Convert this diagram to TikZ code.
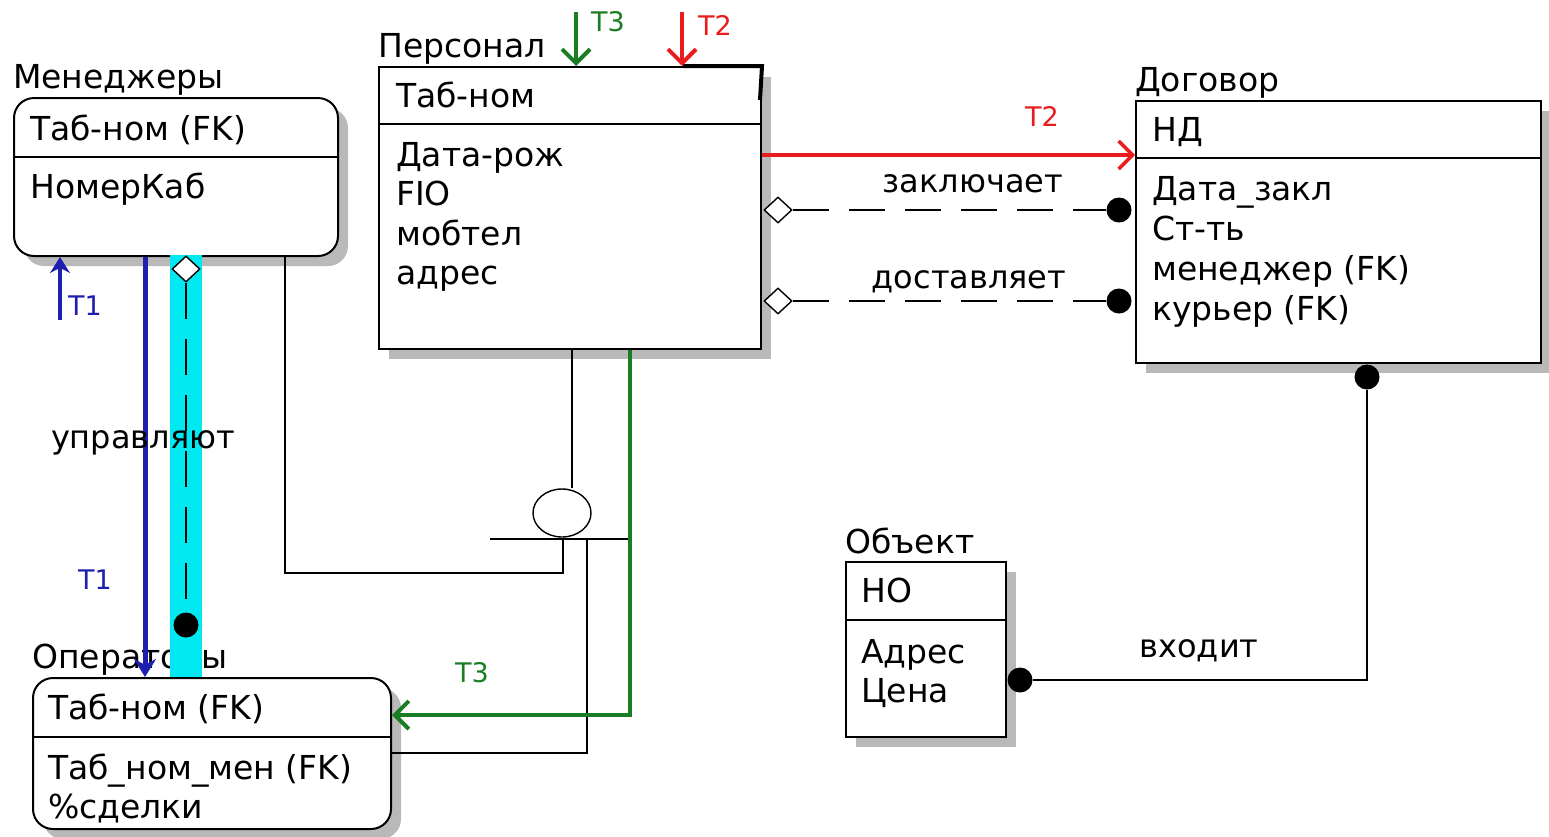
\documentclass[tikz,border=0pt]{standalone}
\usepackage{fontspec}
\setmainfont{DejaVu Sans}
\usetikzlibrary{shapes.geometric,shadows,arrows.meta}
\definecolor{tblue}{RGB}{30,30,175}
\definecolor{tgreen}{RGB}{25,125,35}
\definecolor{tred}{RGB}{232,28,28}
\definecolor{tcyan}{RGB}{0,232,240}
\tikzset{entity/.style={draw,fill=white,line width=2pt,inner sep=0,anchor=north west,drop shadow={shadow xshift=10pt,shadow yshift=-10pt,fill=gray!55,opacity=1}}}
\tikzset{title/.style={anchor=base west,inner sep=0,font=\fontsize{33}{36}\selectfont}}
\tikzset{attr/.style={anchor=base west,inner sep=0,font=\fontsize{33}{36}\selectfont}}
\tikzset{rel/.style={anchor=base,inner sep=0,font=\fontsize{32}{36}\selectfont}}
\tikzset{tag/.style={inner sep=0,font=\fontsize{27}{30}\selectfont}}
\tikzset{dot/.style={circle,fill=black,inner sep=0,minimum size=25}}
\tikzset{hollow/.style={diamond,draw,fill=white,line width=1.4pt,inner sep=0,minimum width=28,minimum height=26}}
\tikzset{link/.style={line width=2pt}}
\tikzset{idlink/.style={link,dash pattern=on 36pt off 20pt}}
\tikzset{tarrow/.style={line width=4pt,-{Straight Barb[length=14pt,width=28pt]}}}

\begin{document}
\begin{tikzpicture}[x=1pt,y=-1pt]
\useasboundingbox (0,0) rectangle (1549,836);

% entities
\node [entity,rounded corners=20pt,minimum width=324,minimum height=158] (men) at (13,97) {};
\node [entity,minimum width=382,minimum height=282] (pers) at (378,66) {};
\node [entity,minimum width=405,minimum height=262] (dog) at (1135,100) {};
\node [entity,minimum width=160,minimum height=175] (obj) at (845,561) {};
\node [entity,rounded corners=20pt,minimum width=358,minimum height=151] (ops) at (32,677) {};
\draw [line width=4pt] (683,66) -- (pers.north east) -- (760,100);

\draw [link] (men.west |- 0,157) -- (men.east |- 0,157);
\draw [link] (pers.west |- 0,124) -- (pers.east |- 0,124);
\draw [link] (dog.west |- 0,158) -- (dog.east |- 0,158);
\draw [link] (obj.west |- 0,620) -- (obj.east |- 0,620);
\draw [link] (ops.west |- 0,737) -- (ops.east |- 0,737);

\node [title] (menT) at (13,88) {Менеджеры};
\node [title] (persT) at (378,57) {Персонал};
\node [title] (dogT) at (1135,91) {Договор};
\node [title] (objT) at (845,553) {Объект};
\node [title] (opsT) at (32,668) {Операторы};

\node [attr] (men1) at (30,140) {Таб-ном (FK)};
\node [attr] (men2) at (30,198) {НомерКаб};

\node [attr] (pers1) at (396,107) {Таб-ном};
\node [attr] (pers2) at (396,166) {Дата-рож};
\node [attr] (pers3) at (396,205) {FIO};
\node [attr] (pers4) at (396,245) {мобтел};
\node [attr] (pers5) at (396,284) {адрес};

\node [attr] (dog1) at (1152,141) {НД};
\node [attr] (dog2) at (1152,200) {Дата\_закл};
\node [attr] (dog3) at (1152,240) {Ст-ть};
\node [attr] (dog4) at (1152,280) {менеджер (FK)};
\node [attr] (dog5) at (1152,320) {курьер (FK)};

\node [attr] (obj1) at (861,602) {НО};
\node [attr] (obj2) at (861,663) {Адрес};
\node [attr] (obj3) at (861,702) {Цена};

\node [attr] (ops1) at (48,719) {Таб-ном (FK)};
\node [attr] (ops2) at (48,779) {Таб\_ном\_мен (FK)};
\node [attr] (ops3) at (48,818) {\%сделки};

% управляют
\fill [tcyan] (170,255) rectangle (202,677);
\node [hollow] (dia1) at (186,269) {};
\node [dot] (dot1) at (186,625) {};
\draw [idlink] (dia1) -- (dot1);
\draw [tblue,line width=5pt,-{Stealth[length=18pt,width=22pt]}] (men.south -| 145,0) -- (ops.north -| 145,0);
\coordinate (t1a) at (60,320);
\draw [tblue,line width=4.5pt,-{Stealth[length=16pt,width=20pt]}] (t1a) -- (men.south -| 60,0);
\node [rel] (upr) at (143,448) {управляют};
\node [tag,tblue] (t1u) at (85,306) {T1};
\node [tag,tblue] (t1d) at (95,580) {T1};

% subtype
\node [draw,ellipse,line width=1.4pt,minimum width=58,minimum height=48,inner sep=0] (sub) at (562,513) {};
\draw [link] (pers.south -| 572,0) -- (sub.north -| 572,0);
\draw [link] (490,539) -- (632,539);
\draw [link] (men.south -| 285,0) |- (563,573) -- (563,539);
\draw [link] (587,539) |- (ops.east |- 0,753);

% T3
\draw [tgreen,tarrow] (pers.south -| 630,0) |- (ops.east |- 0,715);
\coordinate (t3a) at (576,12);
\draw [tgreen,tarrow] (t3a) -- (pers.north -| 576,0);
\node [tag,tgreen] (t3u) at (608,22) {T3};
\node [tag,tgreen] (t3d) at (472,673) {T3};

% T2
\coordinate (t2a) at (682,12);
\draw [tred,tarrow] (t2a) -- (pers.north -| 682,0);
\node [tag,tred] (t2u) at (715,25) {T2};
\draw [tred,tarrow,line width=3.5pt] (pers.east |- 0,155) -- (dog.west |- 0,155);
\node [tag,tred] (t2m) at (1042,116) {T2};

% заключает, доставляет
\node [hollow] (dia2) at (778,210) {};
\node [dot] (dot2) at (1119,210) {};
\draw [idlink] (dia2) -- (dot2);
\node [rel] (zak) at (973,192) {заключает};
\node [hollow] (dia3) at (778,301) {};
\node [dot] (dot3) at (1119,301) {};
\draw [idlink] (dia3) -- (dot3);
\node [rel] (dost) at (969,288) {доставляет};

% входит
\node [dot] (dot4) at (1367,377) {};
\node [dot] (dot5) at (1020,680) {};
\draw [link] (dot4) |- (dot5);
\node [rel] (vh) at (1199,657) {входит};
\end{tikzpicture}
\end{document}
